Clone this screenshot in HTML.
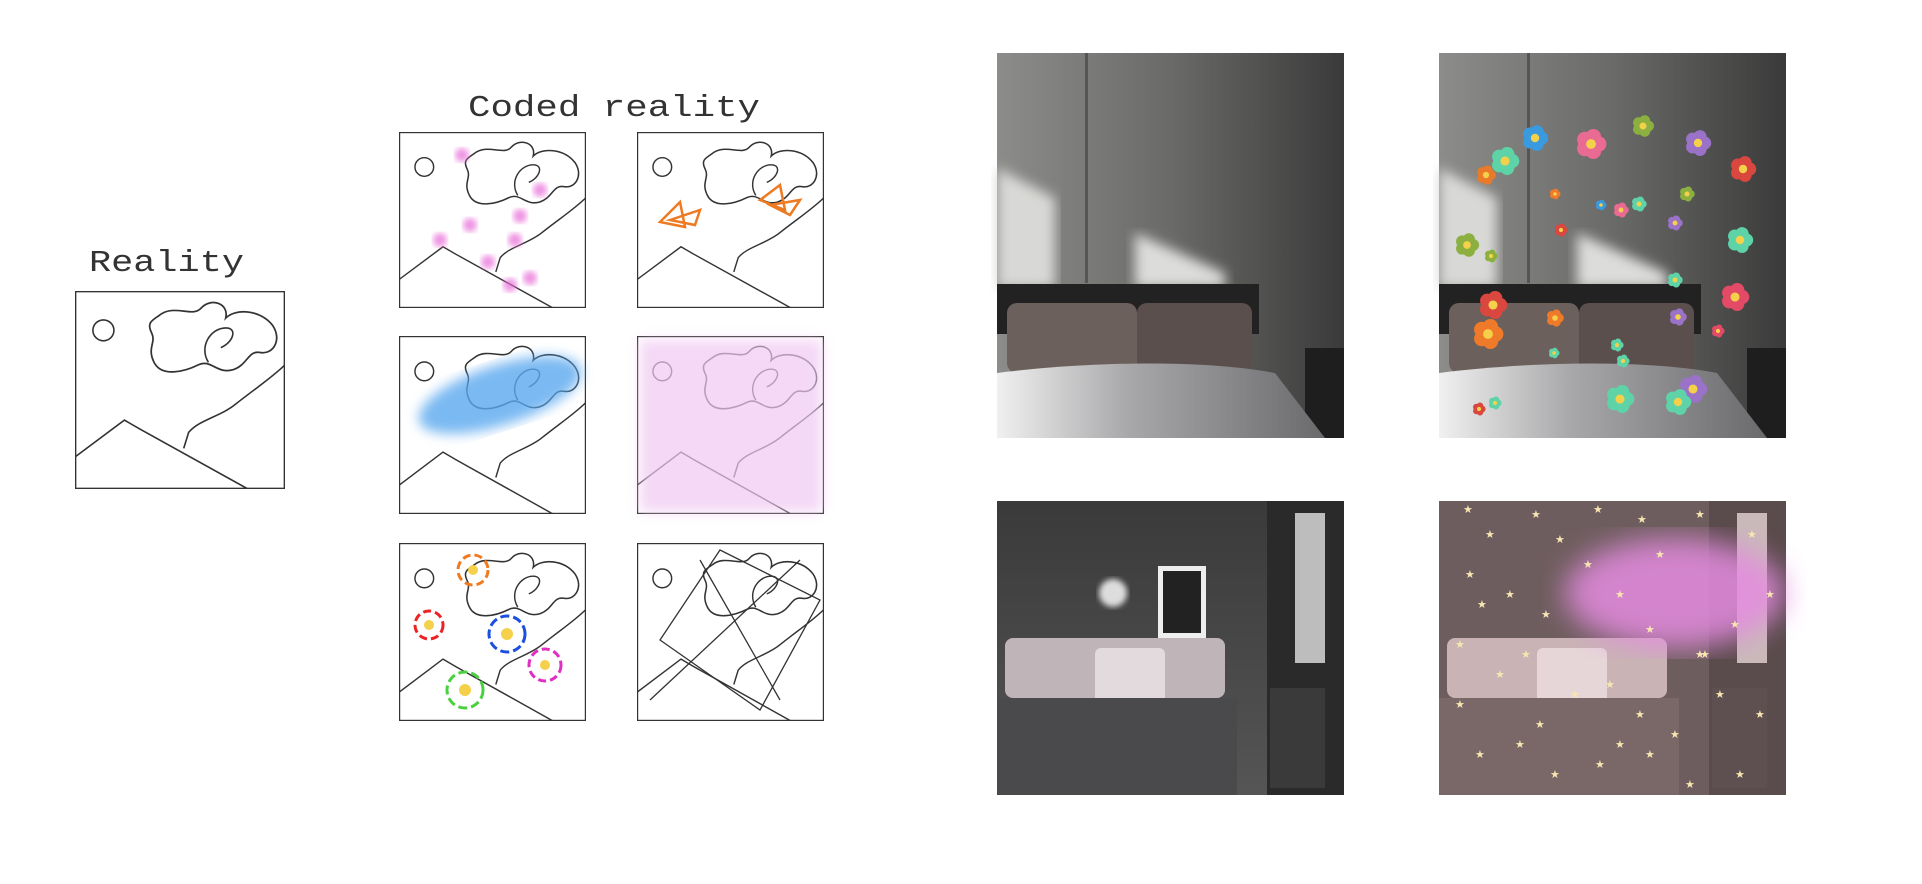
<!DOCTYPE html>
<html><head><meta charset="utf-8">
<style>
html,body{margin:0;padding:0;background:#fff;}
svg{display:block;}
text{font-family:"Liberation Mono",monospace;}
</style></head>
<body>
<svg id="root" width="1922" height="884" viewBox="0 0 1922 884" xmlns="http://www.w3.org/2000/svg">
<defs>
  <symbol id="sketch" viewBox="0 0 170 161" preserveAspectRatio="none">
    <rect x="0.5" y="0.5" width="169" height="160" fill="none" stroke="#333" stroke-width="1.2"/>
    <circle cx="23" cy="32" r="8.5" fill="none" stroke="#333" stroke-width="1.3"/>
    <path d="M68,20 C80,10 95,22 102,14 C110,5 125,10 122,22 C130,14 150,15 160,28 C168,40 160,52 150,50 C140,48 140,60 128,64 C115,68 110,55 100,60 C88,66 70,70 64,58 C58,46 66,42 62,34 C58,26 62,24 68,20 Z" fill="none" stroke="#333" stroke-width="1.4"/>
    <path d="M108,58 C100,45 110,30 122,30 C132,30 128,42 118,46" fill="none" stroke="#333" stroke-width="1.3"/>
    <path d="M0,135 L40,105 L52,112 L140,161" fill="none" stroke="#333" stroke-width="1.3"/>
    <path d="M88,128 L92,115 C100,105 118,102 130,92 C145,80 160,70 170,60" fill="none" stroke="#333" stroke-width="1.3"/>
  </symbol>
  <filter id="blur6"><feGaussianBlur stdDeviation="6"/></filter>
  <filter id="blur14"><feGaussianBlur stdDeviation="14"/></filter>
  <filter id="blur3"><feGaussianBlur stdDeviation="3"/></filter>
  <linearGradient id="wall1" x1="0" y1="0" x2="1" y2="0">
    <stop offset="0" stop-color="#8c8c8a"/><stop offset="0.5" stop-color="#6a6a68"/><stop offset="1" stop-color="#3a3a3a"/>
  </linearGradient>
  <linearGradient id="bed1" x1="0" y1="0" x2="1" y2="0">
    <stop offset="0" stop-color="#f0f0f0"/><stop offset="0.4" stop-color="#a8a8aa"/><stop offset="1" stop-color="#6a6a6c"/>
  </linearGradient>
  <linearGradient id="wall2" x1="0" y1="0" x2="0" y2="1">
    <stop offset="0" stop-color="#3a3a3a"/><stop offset="1" stop-color="#555"/>
  </linearGradient>
</defs>

<text x="89" y="271" font-size="31" fill="#333" textLength="155" lengthAdjust="spacingAndGlyphs">Reality</text>
<use href="#sketch" x="75" y="291" width="210" height="198"/>

<text x="468" y="116" font-size="31" fill="#333" xml:space="preserve" textLength="292" lengthAdjust="spacingAndGlyphs">Coded reality</text>

<g id="grid">
  <use href="#sketch" x="399" y="132" width="187" height="176"/>
  <use href="#sketch" x="637" y="132" width="187" height="176"/>
  <use href="#sketch" x="399" y="336" width="187" height="178"/>
  <use href="#sketch" x="637" y="336" width="187" height="178"/>
  <use href="#sketch" x="399" y="543" width="187" height="178"/>
  <use href="#sketch" x="637" y="543" width="187" height="178"/>
</g>
<g id="deco"></g>

<g transform="translate(-5,-2)">
<g>
  <rect x="1002" y="55" width="347" height="385" fill="url(#wall1)"/>
  <rect x="1090" y="55" width="3" height="230" fill="#555"/>
  <polygon points="1002,170 1060,200 1060,290 1002,290" fill="#d8d8d6" filter="url(#blur6)"/>
  <polygon points="1140,235 1230,275 1230,290 1140,290" fill="#dcdcda" filter="url(#blur6)"/>
  <rect x="1002" y="286" width="262" height="50" fill="#222"/>
  <rect x="1012" y="305" width="130" height="70" rx="10" fill="#6c605c"/>
  <rect x="1142" y="305" width="115" height="70" rx="10" fill="#5a4f4c"/>
  <rect x="1310" y="350" width="39" height="90" fill="#1e1e1e"/>
  <path d="M1002,375 C1080,365 1200,360 1280,375 L1330,440 L1002,440 Z" fill="url(#bed1)"/>
</g>
<g>
  <rect x="1444" y="55" width="347" height="385" fill="url(#wall1)"/>
  <rect x="1532" y="55" width="3" height="230" fill="#555"/>
  <polygon points="1444,170 1502,200 1502,290 1444,290" fill="#d8d8d6" filter="url(#blur6)"/>
  <polygon points="1582,235 1672,275 1672,290 1582,290" fill="#dcdcda" filter="url(#blur6)"/>
  <rect x="1444" y="286" width="262" height="50" fill="#222"/>
  <rect x="1454" y="305" width="130" height="70" rx="10" fill="#6c605c"/>
  <rect x="1584" y="305" width="115" height="70" rx="10" fill="#5a4f4c"/>
  <rect x="1752" y="350" width="39" height="90" fill="#1e1e1e"/>
  <path d="M1444,375 C1522,365 1642,360 1722,375 L1772,440 L1444,440 Z" fill="url(#bed1)"/>
  <g id="flowers"></g>
</g>
<g>
  <rect x="1002" y="503" width="347" height="294" fill="url(#wall2)"/>
  <rect x="1272" y="503" width="77" height="294" fill="#2a2a2a"/>
  <rect x="1300" y="515" width="30" height="150" fill="#bdbdbd"/>
  <rect x="1163" y="568" width="48" height="72" fill="#eee"/><rect x="1168" y="573" width="38" height="62" fill="#222"/>
  <circle cx="1118" cy="595" r="14" fill="#ddd" filter="url(#blur3)"/>
  <rect x="1010" y="640" width="220" height="60" rx="8" fill="#bfb5b8"/>
  <rect x="1100" y="650" width="70" height="55" rx="6" fill="#e2dadc"/>
  <rect x="1002" y="700" width="240" height="97" fill="#4a4a4c"/>
  <rect x="1275" y="690" width="55" height="100" fill="#3a3a3a"/>
</g>
<g>
  <rect x="1444" y="503" width="347" height="294" fill="#6e5d5e"/>
  <rect x="1714" y="503" width="77" height="294" fill="#5a4b4c"/>
  <rect x="1742" y="515" width="30" height="150" fill="#c9b9b9"/>
  <rect x="1452" y="640" width="220" height="60" rx="8" fill="#c9b3b5"/>
  <rect x="1542" y="650" width="70" height="55" rx="6" fill="#e6d6d8"/>
  <rect x="1444" y="700" width="240" height="97" fill="#7a6869"/>
  <rect x="1717" y="690" width="55" height="100" fill="#5e4f50"/>
  <ellipse cx="1680" cy="595" rx="110" ry="55" fill="#e58be0" opacity="0.85" filter="url(#blur14)"/>
  <g id="stars"></g>
</g>
</g>
</svg>
<script>
const flowerX=[1510,1540,1596,1648,1703,1748,1491,1560,1566,1606,1644,1626,1692,1680,1745,1472,1496,1680,1740,1498,1560,1683,1493,1559,1500,1622,1628,1723,1698,1484,1625,1683];
const flowerY=[163,140,146,128,145,171,177,196,232,207,206,212,196,225,242,247,258,282,299,307,320,319,336,355,405,347,363,333,391,411,401,404];
const flowerR=[13,12,14,10,12,12,9,5,6,5,7,7,7,7,12,11,6,7,13,13,8,8,14,5,6,6,6,6,13,6,13,12];
const flowerC=["#5fd3a8","#3a9ae0","#e96a93","#8cb040","#9a72c8","#d9473e","#e87a2a","#ef7a2a","#d9473e","#3a9ae0","#5fd3a8","#e96a93","#8cb040","#9a72c8","#5fd3a8","#8cb040","#8cb040","#5fd3a8","#e34a66","#d9473e","#ef7a2a","#9a72c8","#ef7a2a","#5fd3a8","#5fd3a8","#5fd3a8","#5fd3a8","#e34a66","#9a72c8","#d9473e","#5fd3a8","#5fd3a8"];
const starX=[1468,1490,1536,1560,1598,1642,1660,1700,1752,1470,1482,1510,1546,1588,1620,1650,1705,1735,1460,1500,1526,1575,1610,1640,1675,1720,1760,1480,1520,1555,1600,1650,1690,1740,1460,1540,1620,1700,1770];
const starY=[515,540,520,545,515,525,560,520,540,580,610,600,620,570,600,635,660,630,650,680,660,700,690,720,740,700,720,760,750,780,770,760,790,780,710,730,750,660,600];
const ns="http://www.w3.org/2000/svg";
const fg=document.getElementById('flowers');
for(let i=0;i<flowerX.length;i++){
  const g=document.createElementNS(ns,'g');
  
  
  const r=flowerR[i];
  for(let k=0;k<5;k++){
    const a=k*Math.PI*2/5;
    const c=document.createElementNS(ns,'circle');
    c.setAttribute('cx',flowerX[i]+Math.cos(a)*r*0.55);
    c.setAttribute('cy',flowerY[i]+Math.sin(a)*r*0.55);
    c.setAttribute('r',r*0.55);
    c.setAttribute('fill',flowerC[i]);
    g.appendChild(c);
  }
  const m=document.createElementNS(ns,'circle');
  m.setAttribute('cx',flowerX[i]);m.setAttribute('cy',flowerY[i]);m.setAttribute('r',r*0.35);m.setAttribute('fill','#f5d04a');
  g.appendChild(m);
  fg.appendChild(g);
}
const sg=document.getElementById('stars');
for(let i=0;i<starX.length;i++){
  const t=document.createElementNS(ns,'text');
  
  
  t.setAttribute('x',starX[i]);t.setAttribute('y',starY[i]);
  t.setAttribute('font-size','11');t.setAttribute('fill','#f8e6b0');
  t.setAttribute('style','font-family:"DejaVu Sans",sans-serif');
  t.textContent='★';
  sg.appendChild(t);
}
const deco=document.getElementById('deco');
const pinkX=[462,470,440,488,520,540,515,530,510];
const pinkY=[155,225,240,262,216,190,240,278,285];
for(let i=0;i<pinkX.length;i++){
  const c=document.createElementNS(ns,'circle');
  
  
  c.setAttribute('cx',pinkX[i]);c.setAttribute('cy',pinkY[i]);c.setAttribute('r',7);
  c.setAttribute('fill','#e86ad8');c.setAttribute('opacity','0.7');c.setAttribute('filter','url(#blur3)');
  deco.appendChild(c);
}
const extras=[
 ['blue-haze','<ellipse cx="500" cy="395" rx="85" ry="30" transform="rotate(-18 500 395)" fill="#5aa8ef" opacity="0.8" filter="url(#blur6)"/>'],
 ['pink-haze','<rect x="640" y="340" width="182" height="172" fill="#f0c8f2" opacity="0.7" filter="url(#blur6)"/>'],
 ['orange-leaves','<path d="M660,222 l20,-20 l5,25 z M670,220 l30,-10 l-5,15 z M760,200 l20,-15 l5,25 z M770,205 l30,-5 l-10,15 z" fill="none" stroke="#ee7a22" stroke-width="2.5"/>'],
 ['red-flower','<circle cx="429" cy="625" r="14" fill="none" stroke="#e22" stroke-width="3" stroke-dasharray="8 4"/><circle cx="429" cy="625" r="5" fill="#f5d04a"/>'],
 ['orange-flower','<circle cx="473" cy="570" r="15" fill="none" stroke="#f07a20" stroke-width="3" stroke-dasharray="8 4"/><circle cx="473" cy="570" r="5" fill="#f5d04a"/>'],
 ['blue-flower','<circle cx="507" cy="634" r="18" fill="none" stroke="#1a4fe0" stroke-width="3" stroke-dasharray="9 4"/><circle cx="507" cy="634" r="6" fill="#f5d04a"/>'],
 ['magenta-flower','<circle cx="545" cy="665" r="16" fill="none" stroke="#e030c0" stroke-width="3" stroke-dasharray="8 4"/><circle cx="545" cy="665" r="5" fill="#f5d04a"/>'],
 ['green-flower','<circle cx="465" cy="690" r="18" fill="none" stroke="#4ad040" stroke-width="3" stroke-dasharray="9 4"/><circle cx="465" cy="690" r="6" fill="#f5d04a"/>'],
 ['distortion-lines','<path d="M660,640 L720,550 L820,600 L760,710 Z M650,700 L800,560 M700,560 L780,700" fill="none" stroke="#333" stroke-width="1.3"/>']
];
for(const [n,h] of extras){
  const g=document.createElementNS(ns,'g');
  
  
  g.innerHTML=h;
  deco.appendChild(g);
}
</script>
</body></html>
